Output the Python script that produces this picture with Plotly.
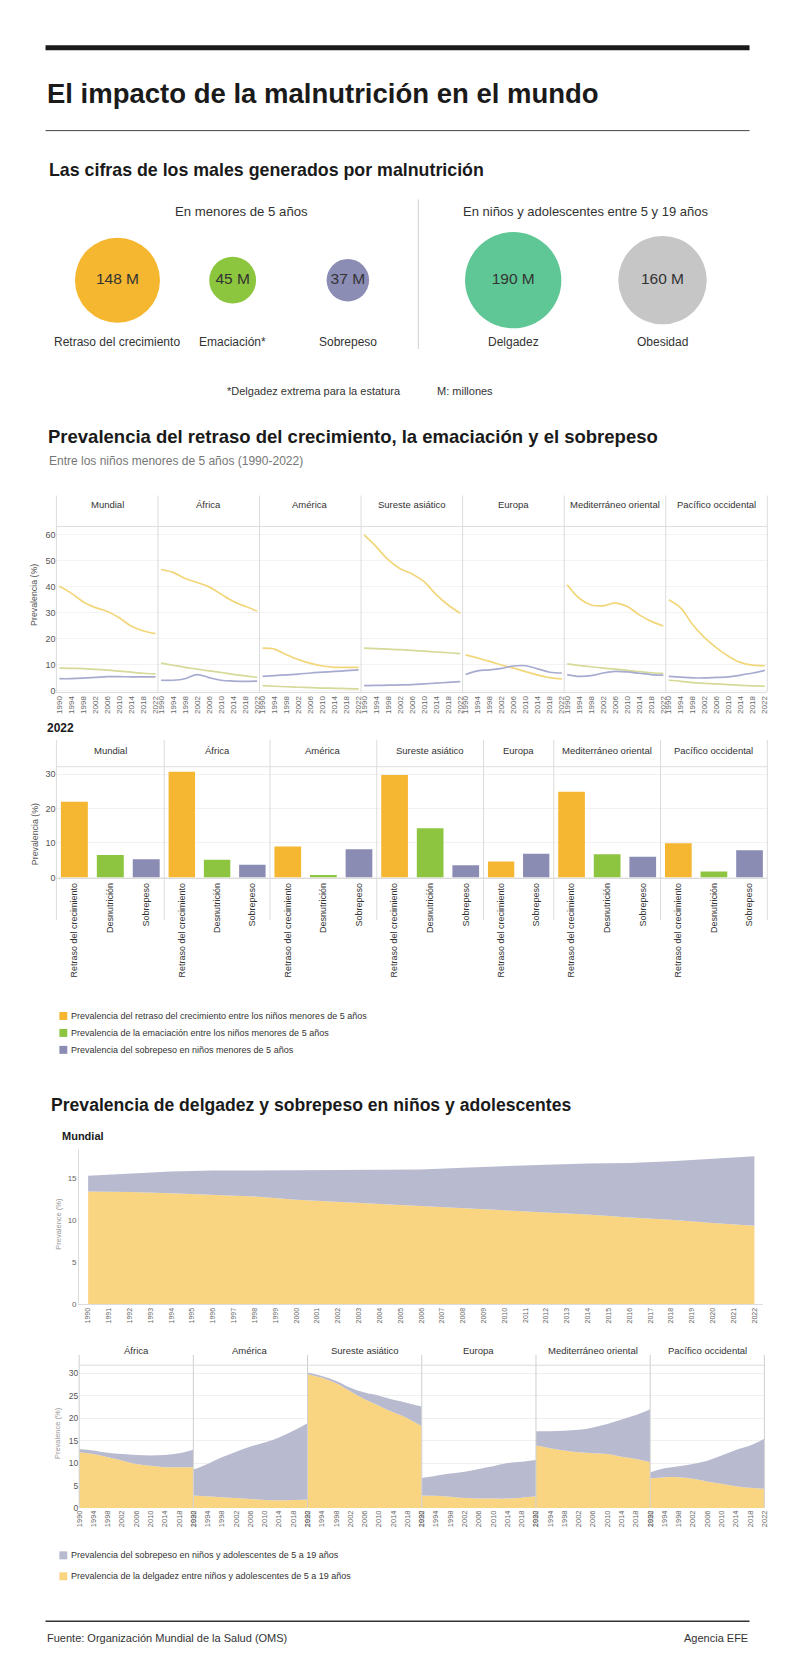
import math
import plotly.graph_objects as go

W, H = 800, 1679
NARROW = "Liberation Sans Narrow, Arial Narrow, Liberation Sans, Arial, sans-serif"
SANS = "Liberation Sans, Arial, sans-serif"

def px(x):
    return x / W

def py(y):
    return 1 - y / H

# ---------------- data ----------------
circle_left_labels = ["Retraso del crecimiento", "Emaciación*", "Sobrepeso"]
circle_left_values = [148, 45, 37]
circle_left_colors = ["#f5b630", "#8cc63e", "#8b8db5"]
circle_right_labels = ["Delgadez", "Obesidad"]
circle_right_values = [190, 160]
circle_right_colors = ["#5fc795", "#c6c6c6"]

regions = ["Mundial", "África", "América", "Sureste asiático", "Europa",
           "Mediterráneo oriental", "Pacífico occidental"]
years4 = [1990, 1994, 1998, 2002, 2006, 2010, 2014, 2018, 2022]

stunting_trend = [
    [40.2, 37.5, 34.2, 32.0, 30.5, 28.0, 24.8, 23.0, 22.0],
    [46.7, 45.6, 43.2, 41.7, 40.0, 37.2, 34.5, 32.5, 30.7],
    [16.4, 16.0, 13.8, 11.9, 10.5, 9.5, 9.0, 9.0, 9.0],
    [60.0, 55.5, 50.5, 47.0, 45.0, 42.0, 37.0, 33.0, 29.8],
    [13.8, 12.6, 11.3, 9.9, 8.7, 7.3, 6.0, 5.0, 4.5],
    [40.8, 35.6, 33.0, 32.7, 33.7, 32.4, 29.2, 26.7, 24.9],
    [35.0, 31.8, 25.4, 20.3, 16.4, 13.2, 10.8, 9.8, 9.6],
]
wasting_trend = [
    [8.7, 8.6, 8.5, 8.2, 7.9, 7.5, 7.1, 6.7, 6.5],
    [10.6, 9.8, 9.0, 8.3, 7.6, 7.0, 6.3, 5.7, 5.1],
    [1.9, 1.7, 1.5, 1.3, 1.2, 1.0, 0.9, 0.8, 0.7],
    [16.4, 16.2, 16.0, 15.8, 15.5, 15.2, 14.9, 14.6, 14.3],
    None,
    [10.3, 9.7, 9.2, 8.7, 8.3, 7.8, 7.3, 6.9, 6.7],
    [4.0, 3.6, 3.1, 2.8, 2.6, 2.3, 2.0, 1.8, 1.7],
]
overweight_trend = [
    [4.6, 4.6, 4.8, 5.1, 5.4, 5.4, 5.3, 5.3, 5.3],
    [4.0, 4.0, 4.6, 6.2, 5.0, 4.0, 3.7, 3.6, 3.7],
    [5.5, 5.8, 6.1, 6.4, 6.8, 7.1, 7.4, 7.7, 8.0],
    [1.9, 2.0, 2.1, 2.2, 2.3, 2.6, 2.9, 3.2, 3.5],
    [6.2, 7.6, 8.0, 8.6, 9.5, 9.6, 8.4, 7.1, 6.8],
    [6.2, 5.5, 5.8, 6.8, 7.4, 7.2, 6.7, 6.2, 6.0],
    [5.5, 5.2, 4.9, 4.9, 5.1, 5.3, 6.0, 6.8, 7.8],
]

bar_categories = ["Retraso del crecimiento", "Desnutrición", "Sobrepeso"]
bar_stunting = [22.0, 30.7, 9.0, 29.8, 4.6, 24.9, 9.9]
bar_wasting = [6.5, 5.1, 0.7, 14.3, None, 6.7, 1.7]
bar_overweight = [5.3, 3.7, 8.2, 3.5, 6.9, 6.0, 7.9]

world_years = list(range(1990, 2023, 2))
world_thinness = [13.45, 13.4, 13.25, 13.05, 12.86, 12.46, 12.2, 11.9, 11.67,
                  11.4, 11.2, 10.95, 10.7, 10.36, 10.08, 9.7, 9.37]
world_overweight = [1.9, 2.2, 2.6, 2.9, 3.1, 3.5, 3.8, 4.1, 4.4, 4.9, 5.3,
                    5.7, 6.1, 6.5, 7.0, 7.7, 8.3]
world_year_ticks = list(range(1990, 2023))

area_regions = ["África", "América", "Sureste asiático", "Europa",
                "Mediterráneo oriental", "Pacífico occidental"]
region_thinness = [
    [12.4, 12.0, 11.3, 10.6, 9.8, 9.4, 9.1, 9.1, 9.1],
    [2.8, 2.6, 2.4, 2.2, 2.0, 1.8, 1.7, 1.8, 1.9],
    [29.8, 29.0, 27.8, 26.0, 24.2, 22.8, 21.3, 20.0, 18.2],
    [2.8, 2.7, 2.5, 2.2, 2.1, 2.1, 2.1, 2.3, 2.6],
    [13.9, 13.3, 12.8, 12.4, 12.2, 12.0, 11.4, 10.9, 10.2],
    [6.6, 6.85, 6.85, 6.5, 5.9, 5.4, 4.85, 4.5, 4.3],
]
region_overweight = [
    [0.75, 0.8, 1.0, 1.4, 2.0, 2.3, 2.7, 3.1, 3.9],
    [5.75, 7.2, 8.9, 10.35, 11.7, 12.8, 14.0, 15.4, 17.0],
    [0.4, 0.4, 0.5, 0.8, 1.5, 2.2, 2.8, 3.4, 4.4],
    [3.9, 4.5, 5.2, 5.9, 6.6, 7.2, 7.9, 8.0, 8.1],
    [3.2, 3.8, 4.4, 5.0, 5.75, 6.7, 8.3, 9.8, 11.8],
    [1.35, 2.0, 2.45, 3.3, 4.65, 6.3, 8.05, 9.4, 11.1],
]

legend1_labels = ["Prevalencia del retraso del crecimiento entre los niños menores de 5 años",
                  "Prevalencia de la emaciación entre los niños menores de 5 años",
                  "Prevalencia del sobrepeso en niños menores de 5 años"]
legend2_labels = ["Prevalencia del sobrepeso en niños y adolescentes de 5 a 19 años",
                  "Prevalencia de la delgadez entre niños y adolescentes de 5 a 19 años"]

# ---------------- styles ----------------
C_STUNT, C_WAST, C_OVER = "#f5b731", "#8dc540", "#8b8cb3"
L_STUNT, L_WAST, L_OVER = "#f2d67a", "#d6da98", "#a8abd0"
A_THIN, A_OVER = "#f9d582", "#b8bacf"
SEP = "#dcdcdc"

fig = go.Figure()
layout = {}
annotations = []
shapes = []

def axis_names(n):
    return ("x" if n == 1 else f"x{n}", "y" if n == 1 else f"y{n}")

def add_axes(n, xdom, ydom, xopts, yopts):
    xn, yn = axis_names(n)
    layout["xaxis" if n == 1 else f"xaxis{n}"] = dict(domain=xdom, anchor=yn, **xopts)
    layout["yaxis" if n == 1 else f"yaxis{n}"] = dict(domain=ydom, anchor=xn, **yopts)
    return xn, yn

def ann(text, x, y, size=12, color="#333", family=NARROW, xanchor="center",
        yanchor="middle", weight="normal", angle=0, xref="paper"):
    annotations.append(dict(text=text, x=x, y=y, xref=xref, yref="paper",
                            xanchor=xanchor, yanchor=yanchor, showarrow=False,
                            textangle=angle,
                            font=dict(size=size, color=color, family=family, weight=weight)))

def hline(y, x0, x1, color=SEP, width=1):
    shapes.append(dict(type="line", xref="paper", yref="paper", x0=px(x0), x1=px(x1),
                       y0=py(y), y1=py(y), line=dict(color=color, width=width)))

def vline(x, y0, y1, color=SEP, width=1):
    shapes.append(dict(type="line", xref="paper", yref="paper", x0=px(x), x1=px(x),
                       y0=py(y0), y1=py(y1), line=dict(color=color, width=width)))

hidden = dict(visible=False, fixedrange=True)

# ---------------- header ----------------
hline(48, 41, 753, "#1a1a1a", 5)
ann("El impacto de la malnutrición en el mundo", px(40), py(94), 27.5, "#1a1a1a", SANS,
    "left", weight="bold")
hline(131, 41, 753, "#444", 1)
ann("Las cifras de los males generados por malnutrición", px(42), py(171), 17.8, "#1a1a1a",
    SANS, "left", weight="bold")
ann("En menores de 5 años", px(239), py(212), 13.2)
ann("En niños y adolescentes entre 5 y 19 años", px(587), py(212), 13)
vline(418, 200, 350, "#cfcfcf")

# circles
def circle_group(n, xdom, labels, values, colors):
    xn, yn = add_axes(n, xdom, [py(332), py(230)],
                      dict(type="category", range=[-0.5, len(labels) - 0.5], **hidden),
                      dict(range=[-1, 1], **hidden))
    fig.add_trace(go.Scatter(
        x=labels, y=[0] * len(labels), xaxis=xn, yaxis=yn, mode="markers+text",
        marker=dict(size=[85 * math.sqrt(v / 148) for v in values], color=colors,
                    sizemode="diameter", line=dict(width=0), opacity=1),
        text=[f"{v} M" for v in values], textposition="middle center",
        textfont=dict(size=15.5, color="#333", family=NARROW),
        showlegend=False, hoverinfo="skip"))
    for lab in labels:
        annotations.append(dict(text=lab, x=lab, xref=xn, y=py(343), yref="paper",
                                showarrow=False, xanchor="center", yanchor="middle",
                                font=dict(size=12, color="#333", family=NARROW)))

circle_group(1, [px(55.5), px(405)], circle_left_labels, circle_left_values, circle_left_colors)
circle_group(2, [px(438.5), px(740.5)], circle_right_labels, circle_right_values, circle_right_colors)

ann("*Delgadez extrema para la estatura", px(313), py(392), 11)
ann("M: millones", px(465), py(392), 11)

# ---------------- line facets ----------------
ann("Prevalencia del retraso del crecimiento, la emaciación y el sobrepeso", px(41), py(438),
    18.5, "#1a1a1a", SANS, "left", weight="bold")
ann("Entre los niños menores de 5 años (1990-2022)", px(42), py(462), 12, "#777", SANS, "left")

lx0, lw = 52, 102.71
for i, reg in enumerate(regions):
    n = 3 + i
    xn, yn = add_axes(
        n, [px(lx0 + i * lw), px(lx0 + (i + 1) * lw)], [py(694), py(528)],
        dict(range=[1989.0, 2022.8], tickvals=years4, tickangle=-90,
             tickfont=dict(size=8, color="#666", family=SANS), showgrid=False,
             showline=True, linecolor=SEP, zeroline=False, ticks="", fixedrange=True),
        dict(range=[-0.5, 63.3], tickvals=[0, 10, 20, 30, 40, 50, 60],
             showticklabels=(i == 0), tickfont=dict(size=9, color="#555", family=NARROW),
             gridcolor="#f3f3f3", zeroline=False, showline=False, fixedrange=True))
    series = [(stunting_trend[i], L_STUNT), (wasting_trend[i], L_WAST),
              (overweight_trend[i], L_OVER)]
    for vals, col in series:
        if vals is None:
            continue
        fig.add_trace(go.Scatter(x=years4, y=vals, xaxis=xn, yaxis=yn, mode="lines",
                                 line=dict(color=col, width=1.7, shape="spline"),
                                 showlegend=False, hoverinfo="skip"))
    ann(reg, px(lx0 + (i + 0.5) * lw), py(506), 9.5)
for i in range(8):
    vline(lx0 + i * lw, 497, 694)
hline(528, lx0, lx0 + 7 * lw)
ann("Prevalencia (%)", px(30), py(597), 8.8, "#555", NARROW, angle=-90)

# ---------------- bar facets ----------------
ann("2022", px(40), py(730), 12, "#1a1a1a", SANS, "left", weight="bold")
bar_seps = [52, 161, 268, 376, 484, 555, 663, 771]
for i, reg in enumerate(regions):
    n = 10 + i
    cats, vals, cols = [], [], []
    for cat, v, c in zip(bar_categories, [bar_stunting[i], bar_wasting[i], bar_overweight[i]],
                         [C_STUNT, C_WAST, C_OVER]):
        if v is not None:
            cats.append(cat)
            vals.append(v)
            cols.append(c)
    xn, yn = add_axes(
        n, [px(bar_seps[i]), px(bar_seps[i + 1])], [py(881), py(769)],
        dict(type="category", range=[-0.5, len(cats) - 0.5], tickangle=-90,
             tickfont=dict(size=9, color="#333", family=NARROW), showline=True,
             linecolor=SEP, ticks="", fixedrange=True),
        dict(range=[-0.3, 32.2], tickvals=[0, 10, 20, 30], showticklabels=(i == 0),
             tickfont=dict(size=9, color="#555", family=NARROW), gridcolor="#f1f1f1",
             zeroline=False, fixedrange=True))
    fig.add_trace(go.Bar(x=cats, y=vals, xaxis=xn, yaxis=yn,
                         marker=dict(color=cols, line=dict(width=0)),
                         showlegend=False, hoverinfo="skip"))
    ann(reg, px((bar_seps[i] + bar_seps[i + 1]) / 2), py(753), 9.5)
for x in bar_seps:
    vline(x, 742, 923)
hline(769, bar_seps[0], bar_seps[-1])
ann("Prevalencia (%)", px(30), py(837), 8.8, "#555", NARROW, angle=-90)

def legend_item(y, color, text):
    shapes.append(dict(type="rect", xref="paper", yref="paper", x0=px(55), x1=px(63),
                       y0=py(y + 4), y1=py(y - 4), fillcolor=color, line=dict(width=0)))
    ann(text, px(65), py(y), 9, "#333", NARROW, "left")

for y, col, lab in zip([1019, 1036, 1053], [C_STUNT, C_WAST, C_OVER], legend1_labels):
    legend_item(y, col, lab)

# ---------------- world area ----------------
ann("Prevalencia de delgadez y sobrepeso en niños y adolescentes", px(44), py(1108),
    17.6, "#1a1a1a", SANS, "left", weight="bold")
ann("Mundial", px(56), py(1139), 11, "#1a1a1a", SANS, "left", weight="bold")
xn, yn = add_axes(
    17, [px(75), px(767)], [py(1308), py(1152.7)],
    dict(range=[1989.57, 2022.43], tickvals=world_year_ticks, tickangle=-90,
         tickfont=dict(size=7, color="#666", family=SANS), showgrid=False, showline=True,
         linecolor=SEP, zeroline=False, ticks="", fixedrange=True),
    dict(range=[0, 18.5], tickvals=[0, 5, 10, 15], tickfont=dict(size=8, color="#666", family=SANS),
         showgrid=False, showline=True, linecolor=SEP, zeroline=False, fixedrange=True))
fig.add_trace(go.Scatter(x=world_years, y=world_thinness, xaxis=xn, yaxis=yn, mode="lines",
                         stackgroup="world", line=dict(width=0, color=A_THIN),
                         fillcolor=A_THIN, showlegend=False, hoverinfo="skip"))
fig.add_trace(go.Scatter(x=world_years, y=world_overweight, xaxis=xn, yaxis=yn, mode="lines",
                         stackgroup="world", line=dict(width=0, color=A_OVER),
                         fillcolor=A_OVER, showlegend=False, hoverinfo="skip"))
ann("Prevalence (%)", px(54), py(1227), 7.5, "#999", SANS, angle=-90)

# ---------------- regional areas ----------------
ax0, aw = 75, 115.5
for i, reg in enumerate(area_regions):
    n = 18 + i
    xn, yn = add_axes(
        n, [px(ax0 + i * aw), px(ax0 + (i + 1) * aw)], [py(1512.5), py(1369.3)],
        dict(range=[1990, 2022], tickvals=years4, tickangle=-90,
             tickfont=dict(size=7.5, color="#666", family=NARROW), showgrid=False,
             showline=False, zeroline=False, ticks="", fixedrange=True),
        dict(range=[0, 31.8], tickvals=[0, 5, 10, 15, 20, 25, 30], showticklabels=(i == 0),
             tickfont=dict(size=8.5, color="#555", family=NARROW), gridcolor="#f0f0f0",
             zeroline=False, fixedrange=True))
    grp = f"reg{i}"
    fig.add_trace(go.Scatter(x=years4, y=region_thinness[i], xaxis=xn, yaxis=yn, mode="lines",
                             stackgroup=grp, line=dict(width=0, color=A_THIN, shape="spline"),
                             fillcolor=A_THIN, showlegend=False, hoverinfo="skip"))
    fig.add_trace(go.Scatter(x=years4, y=region_overweight[i], xaxis=xn, yaxis=yn, mode="lines",
                             stackgroup=grp, line=dict(width=0, color=A_OVER, shape="spline"),
                             fillcolor=A_OVER, showlegend=False, hoverinfo="skip"))
    ann(reg, px(ax0 + (i + 0.5) * aw), py(1355), 9.5)
for i in range(7):
    vline(ax0 + i * aw, 1359, 1512.5, "#cfcfcf")
hline(1369.3, ax0, ax0 + 6 * aw)
ann("Prevalence (%)", px(53), py(1437), 7.5, "#999", SANS, angle=-90)

for y, col, lab in zip([1560, 1581], [A_OVER, A_THIN], legend2_labels):
    legend_item(y, col, lab)

# ---------------- footer ----------------
hline(1626, 41, 753, "#333", 1.5)
ann("Fuente: Organización Mundial de la Salud (OMS)", px(40), py(1643), 11, "#333", NARROW, "left")
ann("Agencia EFE", px(753), py(1643), 11, "#333", NARROW, "right")

fig.update_layout(
    width=W, height=H, margin=dict(l=0, r=0, t=0, b=0),
    paper_bgcolor="white", plot_bgcolor="rgba(0,0,0,0)",
    bargap=0.25, showlegend=False, annotations=annotations, shapes=shapes,
    font=dict(family=SANS), **layout)

fig.write_html("out.html", config={"displayModeBar": False, "staticPlot": True},
               post_script="document.body.style.margin='0px';document.body.style.padding='0px';")
